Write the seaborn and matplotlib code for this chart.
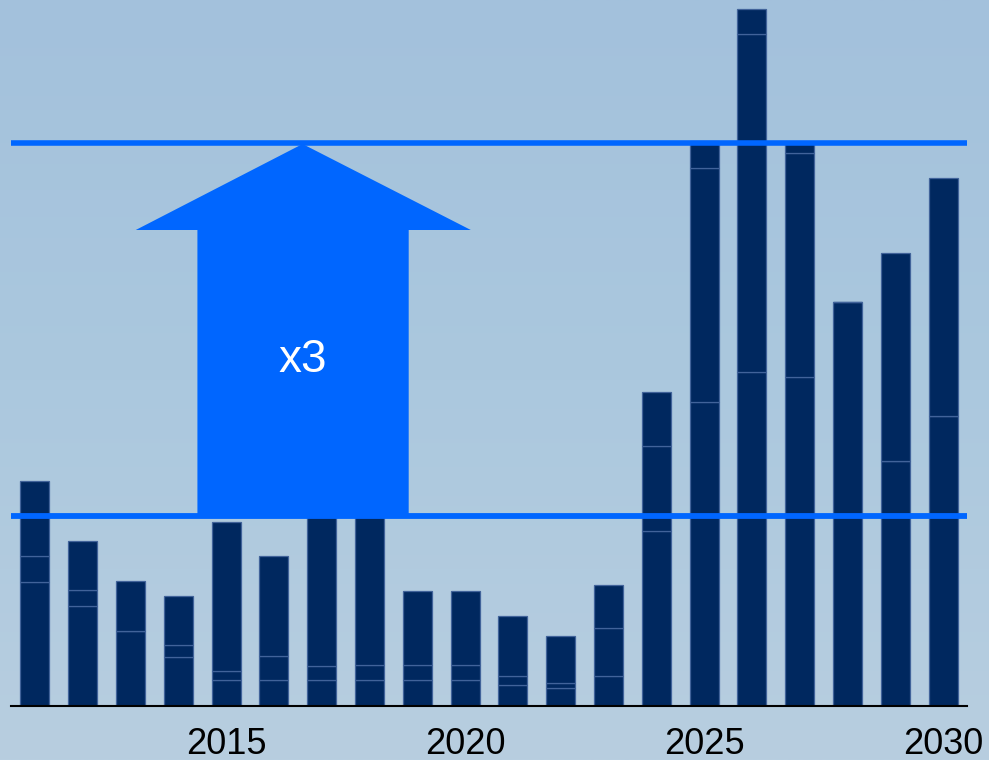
import numpy as np
import pandas as pd
import matplotlib
matplotlib.use("Agg")
import matplotlib.pyplot as plt
from matplotlib.colors import LinearSegmentedColormap
import seaborn as sns

# Data (bar heights, arbitrary units)
years = [str(y) for y in range(2011, 2031)]
seg_bottom = [124, 100, 75, 49, 26, 26, 26, 26, 26, 26, 21, 18, 30, 175, 304, 334, 329, 404, 245, 290]
seg_middle = [26, 16, 0, 12, 9, 24, 14, 15, 15, 15, 9, 5, 48, 85, 234, 338, 224, 0, 0, 0]
seg_top = [75, 49, 50, 49, 149, 100, 160, 159, 74, 74, 60, 47, 43, 54, 27, 25, 11, 0, 208, 238]
level_low = 190
level_high = 563
tick_years = ["2015", "2020", "2025", "2030"]
factor_label = "x3"

BAR = "#00285f"
EDGE = "#41639a"
ACCENT = "#0066ff"

sns.set_style("white")
plt.rcParams["font.family"] = ["Liberation Sans", "DejaVu Sans"]

df = pd.DataFrame({"year": years, "bottom": seg_bottom, "middle": seg_middle, "top": seg_top})
df["b2"] = df["bottom"] + df["middle"]

fig = plt.figure(figsize=(9.89, 7.6), dpi=100)

# background gradient
bg = fig.add_axes([0, 0, 1, 1], zorder=-10)
grad = np.linspace(0, 1, 256).reshape(-1, 1)
cmap = LinearSegmentedColormap.from_list("bg", ["#a3c1dc", "#abc8de", "#b8cee0"])
bg.imshow(grad, aspect="auto", cmap=cmap, extent=[0, 1, 0, 1], origin="upper")
bg.axis("off")

ax = fig.add_axes([11 / 989, 54 / 760, 956 / 989, 706 / 760])
ax.set_facecolor("none")

common = dict(x="year", order=years, color=BAR, width=0.61, edgecolor=EDGE,
              linewidth=0.9, saturation=1, ax=ax, zorder=2)
sns.barplot(data=df, y="bottom", **common)
sns.barplot(data=df, y="middle", bottom=df["bottom"], **common)
sns.barplot(data=df, y="top", bottom=df["b2"], **common)

ax.set_xlim(-0.5, len(years) - 0.5)
ax.set_ylim(0, 706)

# reference levels
ax.axhline(level_low, color=ACCENT, lw=4.2, zorder=3)
ax.axhline(level_high, color=ACCENT, lw=4.0, zorder=3)

# big arrow between levels
cx = 5.6
head_y = 476
arrow_x = [cx - 2.2, cx + 2.22, cx + 2.22, cx + 3.52, cx, cx - 3.49, cx - 2.2]
arrow_y = [level_low, level_low, head_y, head_y, level_high - 1, head_y, head_y]
ax.fill(arrow_x, arrow_y, color=ACCENT, lw=0, zorder=4)
ax.text(cx, 346, factor_label, color="white", fontsize=33, ha="center", va="center", zorder=5)

ax.set_xticks([years.index(t) for t in tick_years])
ax.set_xticklabels(tick_years, fontsize=26, color="black")
ax.tick_params(axis="x", length=0, pad=15)
ax.set_yticks([])
ax.set_xlabel("")
ax.set_ylabel("")
for s in ["top", "left", "right"]:
    ax.spines[s].set_visible(False)
ax.spines["bottom"].set_color("black")
ax.spines["bottom"].set_linewidth(1.5)
ax.spines["bottom"].set_zorder(6)

fig.savefig("out.png", dpi=100)
